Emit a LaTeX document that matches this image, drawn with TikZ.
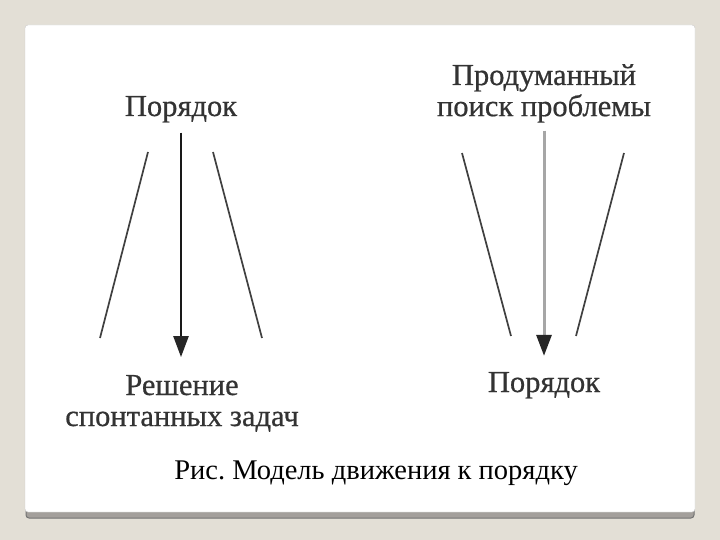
\documentclass[tikz,border=0pt]{standalone}
\usepackage{fontspec}
\setmainfont{Liberation Serif}
\usetikzlibrary{positioning,arrows.meta}
\definecolor{backdrop}{HTML}{E3DFD6}
\definecolor{shade}{HTML}{A39F9B}
\frenchspacing

\begin{document}
\begin{tikzpicture}[x=1pt,y=-1pt]
        \tikzstyle{term}=[inner sep=0, text=black!80, font=\fontsize{30.5}{31}\selectfont\addfontfeature{FakeBold=0.6}];
        \tikzstyle{figcap}=[inner sep=0, font=\fontsize{28.5}{30}\selectfont];
        \tikzstyle{slant}=[draw=black!75, line width=1.7pt];
        \tikzstyle{flow}=[line width=2.4pt, -{Triangle[width=15pt, length=21pt, color=black!85]}];

        % slide card
        \fill [backdrop] (0,0) rectangle (720,540);
        \filldraw [fill=shade, draw=black!55, line width=1pt, rounded corners=3pt] (26,30) rectangle (694,518);
        \filldraw [fill=white, draw=black!20, rounded corners=3pt] (25,25) rectangle (695,512);

        % left scheme
        \node [term, anchor=base] (order) at (181,116) {Порядок};
        \node [term, anchor=base] (solve) at (182,395) {\begin{tabular}[t]{c}
            Решение \\
            спонтанных задач
        \end{tabular}};
        \draw [flow, draw=black!90, shorten <=10pt, shorten >=16pt] (order.south) -- (solve.north -| order.south);

        \coordinate (la) at (148,152); \coordinate (lb) at (100,338);
        \coordinate (ra) at (213,152); \coordinate (rb) at (262,338);
        \draw [slant] (la) -- (lb);
        \draw [slant] (ra) -- (rb);

        % right scheme
        \node [term, anchor=base] (search) at (544,85) {\begin{tabular}[t]{c}
            Продуманный \\
            поиск проблемы
        \end{tabular}};
        \node [term, anchor=base] (order2) at (544,392) {Порядок};
        \draw [flow, draw=black!35, line width=3pt, shorten <=5pt, shorten >=16pt] (search.south) -- (order2.north);

        \coordinate (la2) at (462,153); \coordinate (lb2) at (511,336);
        \coordinate (ra2) at (624,153); \coordinate (rb2) at (576,336);
        \draw [slant] (la2) -- (lb2);
        \draw [slant] (ra2) -- (rb2);

        \node [figcap, anchor=base] (cap) at (376,479) {Рис. Модель движения к порядку};
    \end{tikzpicture}
\end{document}
